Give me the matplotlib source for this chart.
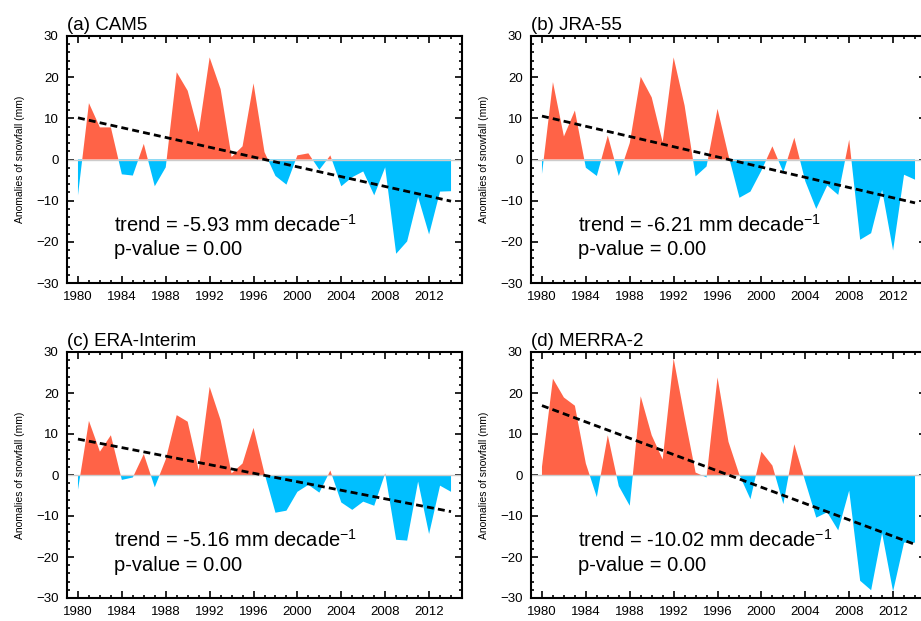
import numpy as np
import matplotlib.pyplot as plt
from matplotlib.ticker import MultipleLocator

plt.rcParams['font.family'] = ['Liberation Sans', 'DejaVu Sans']
plt.rcParams['mathtext.fontset'] = 'custom'
plt.rcParams['mathtext.rm'] = 'Liberation Sans'

years = np.arange(1980, 2015)

cam5 = [-8.7, 13.7, 7.8, 7.8, -3.6, -3.9, 3.8, -6.5, -1.9, 21.2,
        16.7, 6.6, 24.8, 17.1, 0.6, 3.2, 18.5, 1.8, -4.0, -6.1,
        1.0, 1.5, -2.5, 1.0, -6.5, -4.3, -2.9, -8.7, -1.9, -22.9,
        -19.9, -9.1, -18.2, -7.8, -7.7]
jra55 = [-3.5, 18.8, 5.6, 11.9, -2.0, -4.0, 5.8, -4.0, 4.0, 20.1,
         15.1, 4.2, 24.8, 13.1, -4.1, -1.7, 12.3, 1.0, -9.3, -7.8,
         -2.7, 3.2, -3.1, 5.3, -5.3, -12.0, -6.3, -8.6, 4.8, -19.5,
         -17.9, -7.4, -22.1, -3.7, -4.9]
era_interim = [-3.6, 13.2, 5.7, 9.7, -1.2, -0.6, 5.1, -3.0, 3.8, 14.6,
               13.0, 1.2, 21.5, 13.4, 0.4, 2.8, 11.5, 0.4, -9.2, -8.7,
               -4.1, -2.4, -4.3, 1.1, -6.7, -8.5, -6.5, -7.5, 0.4, -15.8,
               -16.0, -1.6, -14.4, -2.6, -4.1]
merra2 = [2.0, 23.5, 18.9, 16.9, 2.8, -5.4, 9.7, -2.7, -7.5, 19.2,
          9.7, 3.8, 28.4, 14.2, 0.6, -0.6, 23.8, 8.1, 0.0, -5.9,
          5.7, 2.3, -7.1, 7.5, -1.6, -10.4, -9.1, -13.5, -3.8, -25.8,
          -28.1, -14.2, -28.4, -16.5, -16.5]

titles = ['(a) CAM5', '(b) JRA-55', '(c) ERA-Interim', '(d) MERRA-2']
trends = ['-5.93', '-6.21', '-5.16', '-10.02']
series = [cam5, jra55, era_interim, merra2]

W, H = 921, 621
fig = plt.figure(figsize=(W / 100, H / 100), dpi=100)

# axes boxes in pixels: left, top, width, height
boxes = [(67, 36, 395, 247), (531, 36, 395, 247),
         (67, 352, 395, 246), (531, 352, 395, 246)]

for i in range(4):
    l, t, w, h = boxes[i]
    ax = fig.add_axes([l / W, 1 - (t + h) / H, w / W, h / H])
    y = np.array(series[i])
    ax.fill_between(years, 0, y, where=y >= 0, interpolate=True,
                    color='#FF6347', lw=0)
    ax.fill_between(years, 0, y, where=y <= 0, interpolate=True,
                    color='#00BFFF', lw=0)
    ax.axhline(0, color='#cccccc', lw=1)

    slope, icpt = np.polyfit(years, y, 1)
    ax.plot(years, slope * years + icpt, 'k--', lw=2, dashes=(2.5, 1.5))

    ax.set_xlim(1979, 2015)
    ax.set_ylim(-30, 30)
    ax.xaxis.set_major_locator(MultipleLocator(4))
    ax.xaxis.set_minor_locator(MultipleLocator(1))
    ax.yaxis.set_major_locator(MultipleLocator(10))
    ax.yaxis.set_minor_locator(MultipleLocator(2))
    ax.tick_params(which='both', direction='in', top=True, right=True,
                   labelsize=9.5, width=1.2, pad=6)
    ax.tick_params(which='major', length=5)
    ax.tick_params(which='minor', length=2.5)
    for s in ax.spines.values():
        s.set_linewidth(1.5)
    ax.set_ylabel('Anomalies of snowfall (mm)', fontsize=7.5, labelpad=8)
    ax.set_title(titles[i], loc='left', fontsize=13.5, pad=4)

    ax.text(0.12, 0.235, 'trend = ' + trends[i] + r' mm decade$^{\mathregular{-1}}$',
            transform=ax.transAxes, fontsize=14.5, va='center')
    ax.text(0.12, 0.134, 'p-value = 0.00', transform=ax.transAxes,
            fontsize=14.5, va='center')

fig.savefig('out.png', dpi=100)
